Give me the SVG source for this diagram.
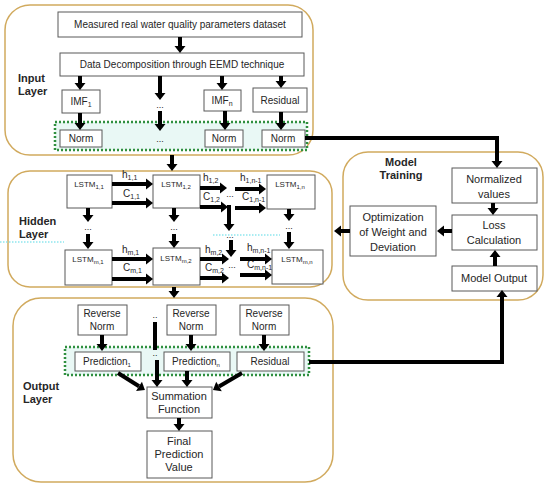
<svg xmlns="http://www.w3.org/2000/svg" width="550" height="487" viewBox="0 0 550 487">
<style>
text{font-family:"Liberation Sans",Arial,sans-serif;fill:#262626}
.box{fill:#fff;stroke:#595959;stroke-width:1}
.layer{fill:#fff;stroke:#d1aa5e;stroke-width:1.5}
.grp{fill:#e9f8f5;stroke:#2f8f3f;stroke-width:2.5;stroke-dasharray:2 2}
.ar{stroke:#000;stroke-width:4;fill:none;marker-end:url(#ah)}
.ln{stroke:#000;stroke-width:4;fill:none}
.t{font-size:10px;text-anchor:middle}
.m{font-size:11px;text-anchor:middle}
.lbl{font-size:11px;font-weight:bold}
.s{font-size:8px;text-anchor:middle}
.e{font-size:10px}
.d{font-size:9px;text-anchor:middle}
.art{stroke:#8fe6ee;stroke-width:1.5;stroke-dasharray:1.5 1.5;fill:none}
</style>
<defs>
<marker id="ah" markerUnits="userSpaceOnUse" markerWidth="8" markerHeight="11" refX="0" refY="5.5" orient="auto" overflow="visible"><path d="M0,0 L7,5.5 L0,11 z" fill="#000"/></marker>
</defs>

<g id="layers">
<rect class="layer" x="5" y="5" width="308" height="150" rx="25"/>
<rect class="layer" x="8" y="171" width="324" height="116" rx="22"/>
<rect class="layer" x="13" y="298" width="320" height="184" rx="28"/>
<rect class="layer" x="343" y="152" width="200" height="148" rx="25"/>
<rect class="grp" x="55" y="122" width="252" height="28"/>
<rect class="grp" x="65" y="347" width="244" height="28"/>
<text class="lbl" x="18" y="82">Input</text>
<text class="lbl" x="18" y="95">Layer</text>
<text class="lbl" x="19" y="225">Hidden</text>
<text class="lbl" x="19" y="238">Layer</text>
<text class="lbl" x="23" y="390">Output</text>
<text class="lbl" x="23" y="403">Layer</text>
<text class="lbl" x="401" y="166" text-anchor="middle">Model</text>
<text class="lbl" x="401" y="179" text-anchor="middle">Training</text>
<path class="art" d="M0,242 H64 M213,235 H280"/>
</g>

<g id="dataset"><rect class="box" x="58" y="12" width="244" height="25"/><text class="t" x="180" y="28">Measured real water quality parameters dataset</text></g>
<g id="eemd"><rect class="box" x="60" y="53" width="244" height="23"/><text class="t" x="182" y="68">Data Decomposition through EEMD technique</text></g>
<g id="imf1"><rect class="box" x="62" y="90" width="38" height="23"/><text class="t" x="81" y="105">IMF<tspan font-size="7" dy="2">1</tspan></text></g>
<g id="imfn"><rect class="box" x="204" y="90" width="37" height="21"/><text class="t" x="222" y="104">IMF<tspan font-size="7" dy="2">n</tspan></text></g>
<g id="residual-in"><rect class="box" x="253" y="88" width="54" height="24"/><text class="t" x="280" y="104">Residual</text></g>
<g id="norm1"><rect class="box" x="60" y="130" width="42" height="17"/><text class="t" x="81" y="142">Norm</text></g>
<g id="normn"><rect class="box" x="205" y="130" width="38" height="17"/><text class="t" x="224" y="142">Norm</text></g>
<g id="normr"><rect class="box" x="262" y="130" width="43" height="17"/><text class="t" x="283" y="142">Norm</text></g>
<text class="d" x="160" y="108">...</text>
<text class="d" x="160" y="142">...</text>

<g id="lstm11"><rect class="box" x="67" y="175" width="45" height="33"/><text class="s" x="89" y="187">LSTM<tspan font-size="6" dy="2">1,1</tspan></text></g>
<g id="lstm12"><rect class="box" x="153" y="175" width="47" height="33"/><text class="s" x="176" y="187">LSTM<tspan font-size="6" dy="2">1,2</tspan></text></g>
<g id="lstm1n"><rect class="box" x="267" y="175" width="48" height="34"/><text class="s" x="290" y="187">LSTM<tspan font-size="6" dy="2">1,n</tspan></text></g>
<g id="lstmm1"><rect class="box" x="65" y="250" width="47" height="35"/><text class="s" x="88" y="262">LSTM<tspan font-size="6" dy="2">m,1</tspan></text></g>
<g id="lstmm2"><rect class="box" x="153" y="248" width="47" height="37"/><text class="s" x="176" y="261">LSTM<tspan font-size="6" dy="2">m,2</tspan></text></g>
<g id="lstmmn"><rect class="box" x="272" y="250" width="51" height="34"/><text class="s" x="297" y="262">LSTM<tspan font-size="6" dy="2">m,n</tspan></text></g>
<g id="hidden-labels">
<text class="e" x="122" y="178">h<tspan font-size="7" dy="2">1,1</tspan></text>
<text class="e" x="123" y="197">C<tspan font-size="7" dy="2">1,1</tspan></text>
<text class="e" x="203" y="181">h<tspan font-size="7" dy="2">1,2</tspan></text>
<text class="e" x="203" y="200">C<tspan font-size="7" dy="2">1,2</tspan></text>
<text class="e" x="240" y="181">h<tspan font-size="7" dy="2">1,n-1</tspan></text>
<text class="e" x="242" y="200">C<tspan font-size="7" dy="2">1,n-1</tspan></text>
<text class="e" x="122" y="253">h<tspan font-size="7" dy="2">m,1</tspan></text>
<text class="e" x="123" y="271">C<tspan font-size="7" dy="2">m,1</tspan></text>
<text class="e" x="205" y="253">h<tspan font-size="7" dy="2">m,2</tspan></text>
<text class="e" x="205" y="271">C<tspan font-size="7" dy="2">m,2</tspan></text>
<text class="e" x="247" y="251">h<tspan font-size="7" dy="2">m,n-1</tspan></text>
<text class="e" x="247" y="268">C<tspan font-size="7" dy="2">m,n-1</tspan></text>
<text class="d" x="230" y="197">...</text>
<text class="d" x="232" y="268">...</text>
<text class="d" x="88" y="230">...</text>
<text class="d" x="174" y="230">...</text>
<text class="d" x="289" y="229">...</text>
<text class="d" x="230" y="238">...</text>
</g>

<g id="rev1"><rect class="box" x="78" y="305" width="49" height="30"/><text class="t" x="102" y="317">Reverse</text><text class="t" x="102" y="330">Norm</text></g>
<g id="rev2"><rect class="box" x="167" y="305" width="49" height="30"/><text class="t" x="191" y="317">Reverse</text><text class="t" x="191" y="330">Norm</text></g>
<g id="rev3"><rect class="box" x="240" y="305" width="49" height="30"/><text class="t" x="264" y="317">Reverse</text><text class="t" x="264" y="330">Norm</text></g>
<g id="pred1"><rect class="box" x="75" y="352" width="66" height="19"/><text class="t" x="107" y="365">Prediction<tspan font-size="6" dy="2">1</tspan></text></g>
<g id="predn"><rect class="box" x="164" y="352" width="66" height="19"/><text class="t" x="196" y="365">Prediction<tspan font-size="6" dy="2">n</tspan></text></g>
<g id="residual-out"><rect class="box" x="237" y="352" width="67" height="19"/><text class="t" x="270" y="365">Residual</text></g>
<g id="summation"><rect class="box" x="147" y="387" width="65" height="31"/><text class="m" x="179" y="400">Summation</text><text class="m" x="179" y="413">Function</text></g>
<g id="final"><rect class="box" x="147" y="431" width="65" height="47"/><text class="m" x="179" y="445">Final</text><text class="m" x="179" y="458">Prediction</text><text class="m" x="179" y="471">Value</text></g>
<text class="d" x="155" y="318">..</text>
<text class="d" x="155" y="356">..</text>

<g id="normalized"><rect class="box" x="452" y="168" width="85" height="35"/><text class="m" x="494" y="183">Normalized</text><text class="m" x="494" y="198">values</text></g>
<g id="loss"><rect class="box" x="452" y="215" width="85" height="35"/><text class="m" x="494" y="229">Loss</text><text class="m" x="494" y="244">Calculation</text></g>
<g id="modelout"><rect class="box" x="452" y="266" width="85" height="25"/><text class="m" x="494" y="282">Model Output</text></g>
<g id="optim"><rect class="box" x="350" y="206" width="86" height="50"/><text class="m" x="393" y="221">Optimization</text><text class="m" x="393" y="236">of Weight and</text><text class="m" x="393" y="251">Deviation</text></g>

<g id="connectors">
<line class="ar" x1="180" y1="37" x2="180" y2="46"/>
<line class="ar" x1="80" y1="76" x2="80" y2="83"/>
<line class="ar" x1="160" y1="76" x2="160" y2="93"/>
<line class="ar" x1="222" y1="76" x2="222" y2="83"/>
<line class="ar" x1="281" y1="76" x2="281" y2="81"/>
<line class="ar" x1="80" y1="113" x2="80" y2="123"/>
<line class="ar" x1="160" y1="111" x2="160" y2="124"/>
<line class="ar" x1="225" y1="111" x2="225" y2="123"/>
<line class="ar" x1="281" y1="112" x2="281" y2="123"/>
<polyline class="ar" points="305,138 497,138 497,161"/>
<line class="ar" x1="172" y1="155" x2="172" y2="164"/>
<line class="ar" x1="112" y1="184" x2="146" y2="184"/>
<line class="ar" x1="112" y1="203" x2="146" y2="203"/>
<line class="ar" x1="200" y1="188" x2="220" y2="188"/>
<line class="ar" x1="200" y1="207" x2="221" y2="207"/>
<line class="ar" x1="229" y1="205" x2="229" y2="224"/>
<line class="ar" x1="231" y1="240" x2="231" y2="250"/>
<line class="ar" x1="235" y1="189" x2="259" y2="189"/>
<line class="ar" x1="235" y1="208" x2="259" y2="208"/>
<line class="ar" x1="88" y1="208" x2="88" y2="215"/>
<line class="ar" x1="88" y1="234" x2="88" y2="242"/>
<line class="ar" x1="174" y1="208" x2="174" y2="215"/>
<line class="ar" x1="174" y1="234" x2="174" y2="241"/>
<line class="ar" x1="289" y1="209" x2="289" y2="214"/>
<line class="ar" x1="289" y1="232" x2="289" y2="242"/>
<line class="ar" x1="112" y1="259" x2="146" y2="259"/>
<line class="ar" x1="112" y1="279" x2="146" y2="279"/>
<line class="ar" x1="200" y1="259" x2="222" y2="259"/>
<line class="ar" x1="200" y1="278" x2="222" y2="278"/>
<line class="ar" x1="240" y1="259" x2="265" y2="259"/>
<line class="ar" x1="240" y1="275" x2="265" y2="275"/>
<line class="ar" x1="174" y1="287" x2="174" y2="291"/>
<line class="ar" x1="102" y1="335" x2="102" y2="344"/>
<line class="ar" x1="191" y1="335" x2="191" y2="344"/>
<line class="ar" x1="264" y1="335" x2="264" y2="344"/>
<line class="ln" x1="155" y1="322" x2="155" y2="350"/>
<line class="ar" x1="157" y1="360" x2="157" y2="380"/>
<line class="ar" x1="118" y1="373" x2="139" y2="386.3"/>
<line class="ar" x1="242" y1="373" x2="219" y2="386.5"/>
<line class="ar" x1="187" y1="371" x2="187" y2="380"/>
<line class="ar" x1="179" y1="418" x2="179" y2="424"/>
<polyline class="ar" points="309,362 502,362 502,297"/>
<line class="ar" x1="493" y1="203" x2="493" y2="208"/>
<line class="ar" x1="495" y1="266" x2="495" y2="257"/>
<line class="ar" x1="452" y1="231" x2="444" y2="231"/>
<line class="ar" x1="350" y1="231" x2="341" y2="231"/>
</g>
</svg>
